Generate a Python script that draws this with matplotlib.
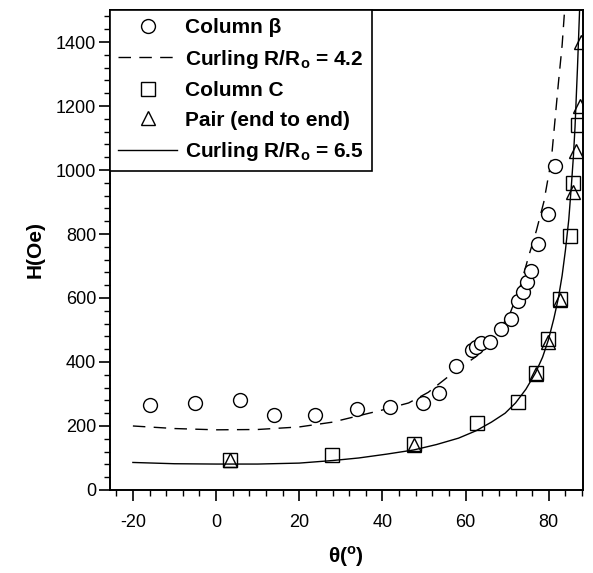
import matplotlib.pyplot as plt
from matplotlib.ticker import MultipleLocator

plt.rcParams['font.family'] = ['Liberation Sans', 'DejaVu Sans']
plt.rcParams['mathtext.fontset'] = 'custom'
plt.rcParams['mathtext.rm'] = 'Liberation Sans'
plt.rcParams['mathtext.bf'] = 'Liberation Sans:bold'
plt.rcParams['axes.unicode_minus'] = False

# Column beta (circles)
beta_theta = [-16, -5, 5.8, 13.9, 23.8, 33.8, 41.8, 49.7, 53.5, 57.6, 61.5, 62.4, 63.6,
              65.8, 68.6, 70.8, 72.7, 73.7, 74.7, 75.8, 77.5, 79.7, 81.6]
beta_H = [266, 272, 280, 234, 233, 252, 260, 273, 304, 388, 438, 447, 458,
          463, 503, 534, 590, 620, 650, 683, 770, 862, 1013]

# Column C (squares)
colc_theta = [3.4, 27.8, 47.5, 62.7, 72.7, 76.8, 79.7, 82.6, 85.0, 85.7, 86.9]
colc_H = [95, 108, 145, 208, 276, 366, 472, 597, 795, 958, 1140]

# Pair end to end (triangles)
pair_theta = [3.4, 47.5, 76.8, 79.7, 82.6, 85.7, 86.6, 87.4, 87.8]
pair_H = [95, 142, 362, 462, 595, 930, 1058, 1200, 1400]

# Curling R/Ro = 4.2 (dashed)
c42_theta = [-20, -10, 0, 10, 20, 28, 34.3, 40, 46.3, 51, 55.4, 59, 62.4, 66.2, 68.5,
             70.8, 73, 75.1, 77, 78.8, 80.6, 82.3, 83.2, 83.8]
c42_H = [200, 192, 188, 189, 197, 212, 232, 250, 272, 305, 350, 385, 416, 469, 508,
         556, 630, 728, 810, 900, 1031, 1271, 1390, 1500]

# Curling R/Ro = 6.5 (solid)
c65_theta = [-20, -10, 0, 10, 20, 28, 34.3, 41, 47.5, 53, 58.3, 62.5, 66.2, 69.5, 72,
             74.5, 76.8, 78.5, 79.9, 81.2, 82.3, 83.2, 84.0, 84.8, 85.4, 85.9, 86.3,
             86.9, 87.4]
c65_H = [86, 82, 81, 81, 84, 92, 100, 112, 125, 142, 162, 185, 212, 240, 272,
         315, 366, 415, 469, 535, 600, 670, 750, 845, 947, 1040, 1134, 1322, 1500]

fig = plt.figure(figsize=(5.93, 5.73), dpi=100)
ax = fig.add_axes([0.1855, 0.1449, 0.7975, 0.8376])

ax.plot(beta_theta, beta_H, 'o', mfc='white', mec='black', ms=10, mew=1,
        label='Column β', zorder=3)
ax.plot(c42_theta, c42_H, color='black', lw=1, ls=(0, (9, 6)),
        label=r'Curling R/R$_\mathbf{o}$ = 4.2', zorder=2)
ax.plot(colc_theta, colc_H, 's', mfc='none', mec='black', ms=9.5, mew=1,
        label='Column C', zorder=3)
ax.plot(pair_theta, pair_H, '^', mfc='none', mec='black', ms=10, mew=1,
        label='Pair (end to end)', zorder=3)
ax.plot(c65_theta, c65_H, color='black', lw=1,
        label=r'Curling R/R$_\mathbf{o}$ = 6.5', zorder=2)

ax.set_xlim(-25.5, 88.2)
ax.set_ylim(0, 1500)
ax.xaxis.set_major_locator(MultipleLocator(20))
ax.xaxis.set_minor_locator(MultipleLocator(4))
ax.yaxis.set_major_locator(MultipleLocator(200))
ax.yaxis.set_minor_locator(MultipleLocator(40))
ax.tick_params(which='major', length=8, width=1.2, labelsize=13, direction='out')
ax.tick_params(axis='x', which='major', pad=9)
ax.tick_params(axis='y', which='major', pad=2)
ax.tick_params(which='minor', length=4.5, width=1, direction='out')
for s in ax.spines.values():
    s.set_linewidth(1.4)

ax.set_xlabel(r'θ($^\mathbf{o}$)', fontsize=15, fontweight='bold', labelpad=10)
ax.set_ylabel('H(Oe)', fontsize=15, fontweight='bold', labelpad=8)

leg = ax.legend(loc='upper left', borderaxespad=0, fancybox=False, framealpha=1,
                edgecolor='black', prop={'weight': 'bold', 'size': 15},
                handlelength=2.8, borderpad=0.4, labelspacing=0.5, handletextpad=0.4)
leg.get_frame().set_linewidth(1.2)

fig.savefig('out.png', dpi=100)
